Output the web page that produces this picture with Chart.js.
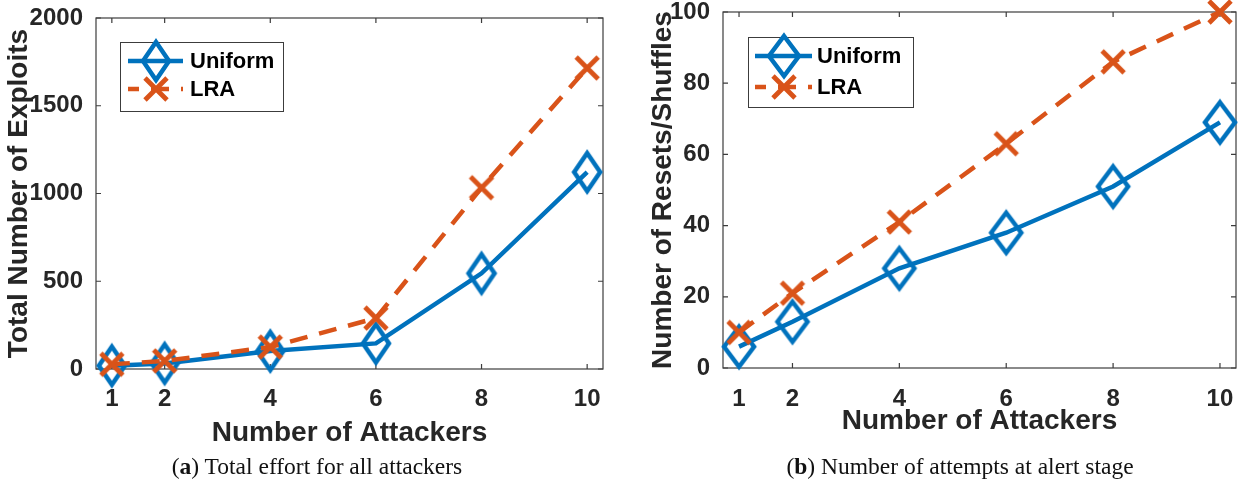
<!DOCTYPE html>
<html>
<head>
<meta charset="utf-8">
<script src="https://cdn.jsdelivr.net/npm/chart.js@4.4.0/dist/chart.umd.min.js"></script>
<style>
  html, body { margin: 0; padding: 0; background: #fff; }
  #wrap { position: relative; width: 1239px; height: 484px; overflow: hidden; }
  #c1 { position: absolute; left: 0; top: 0; }
  #c2 { position: absolute; left: 620px; top: 0; }
  .cap {
    position: absolute; top: 453px; line-height: 26px;
    font-family: "Liberation Serif", "DejaVu Serif", serif; font-size: 23.5px;
    color: #111; white-space: nowrap; transform: translateX(-50%);
  }
</style>
</head>
<body>
<div id="wrap">
  <canvas id="c1" width="620" height="484"></canvas>
  <canvas id="c2" width="619" height="484"></canvas>
  <div class="cap" style="left:317px">(<b>a</b>) Total effort for all attackers</div>
  <div class="cap" style="left:960px">(<b>b</b>) Number of attempts at alert stage</div>
</div>
<script>
// data
const attackers = [1, 2, 4, 6, 8, 10];
const xTicks = [1, 2, 4, 6, 8, 10];
const seriesNames = ["Uniform", "LRA"];

const exploitsUniform = [19, 32, 102, 146, 545, 1122];
const exploitsLRA = [27, 46, 125, 290, 1033, 1715];
const exploitTicks = [0, 500, 1000, 1500, 2000];

const resetsUniform = [6, 13, 28, 38, 51, 69];
const resetsLRA = [10, 21, 41, 63, 86, 100];
const resetTicks = [0, 20, 40, 60, 80, 100];

const BLUE = "#0072BD";
const ORANGE = "#D95319";
const AXIS = "#3c3c3c";
const TEXT = "#262626";
const SANS = '"Liberation Sans", Arial, sans-serif';

// hollow diamond marker, MATLAB style
function diamond(a, b) {
  const c = document.createElement("canvas");
  c.width = 44; c.height = 58;
  const g = c.getContext("2d");
  const cx = 22, cy = 29;
  g.strokeStyle = BLUE;
  g.lineWidth = 4.5;
  g.lineJoin = "miter";
  g.beginPath();
  g.moveTo(cx, cy - b);
  g.lineTo(cx + a, cy);
  g.lineTo(cx, cy + b);
  g.lineTo(cx - a, cy);
  g.closePath();
  g.stroke();
  return c;
}

function cross(r) {
  const c = document.createElement("canvas");
  c.width = 32; c.height = 32;
  const g = c.getContext("2d");
  g.strokeStyle = ORANGE;
  g.lineWidth = 4.8;
  g.beginPath();
  g.moveTo(16 - r, 16 - r); g.lineTo(16 + r, 16 + r);
  g.moveTo(16 + r, 16 - r); g.lineTo(16 - r, 16 + r);
  g.stroke();
  return c;
}

// box around the axes with inward ticks on all four sides
const matlabBox = {
  id: "matlabBox",
  beforeDatasetsDraw(chart) {
    const { ctx, chartArea: a, scales } = chart;
    const tl = 5;
    ctx.save();
    ctx.strokeStyle = AXIS;
    ctx.lineWidth = 1.2;
    ctx.strokeRect(a.left, a.top, a.right - a.left, a.bottom - a.top);
    ctx.beginPath();
    scales.x.ticks.forEach((t) => {
      const px = scales.x.getPixelForValue(t.value);
      ctx.moveTo(px, a.bottom); ctx.lineTo(px, a.bottom - tl);
      ctx.moveTo(px, a.top); ctx.lineTo(px, a.top + tl);
    });
    scales.y.ticks.forEach((t) => {
      const py = scales.y.getPixelForValue(t.value);
      ctx.moveTo(a.left, py); ctx.lineTo(a.left + tl, py);
      ctx.moveTo(a.right, py); ctx.lineTo(a.right - tl, py);
    });
    ctx.stroke();
    ctx.restore();
  },
};

const legendBox = {
  id: "legendBox",
  afterDraw(chart, args, o) {
    const { ctx, chartArea } = chart;
    const x0 = chartArea.left + o.dx;
    const y0 = chartArea.top + o.dy;
    ctx.save();
    ctx.fillStyle = "#fff";
    ctx.fillRect(x0, y0, o.w, o.h);
    ctx.strokeStyle = AXIS;
    ctx.lineWidth = 1;
    ctx.strokeRect(x0 + 0.5, y0 + 0.5, o.w, o.h);
    ctx.font = "bold 22px " + SANS;
    ctx.textBaseline = "middle";
    chart.data.datasets.forEach((ds, i) => {
      const y = y0 + o.rows[i];
      ctx.beginPath();
      ctx.setLineDash(ds.borderDash || []);
      ctx.lineDashOffset = ds.borderDash ? 7 : 0;
      ctx.strokeStyle = ds.borderColor;
      ctx.lineWidth = ds.borderWidth;
      ctx.moveTo(x0 + o.lineFrom, y);
      ctx.lineTo(x0 + o.lineTo, y);
      ctx.stroke();
      ctx.setLineDash([]);
      const img = ds.pointStyle;
      ctx.drawImage(img, x0 + o.mark - img.width / 2, y - img.height / 2);
      ctx.fillStyle = "#000";
      ctx.fillText(ds.label, x0 + o.text, y + 1);
    });
    ctx.restore();
  },
};

function makeChart(id, opt) {
  const datasets = [
    {
      label: seriesNames[0],
      data: attackers.map((x, i) => ({ x: x, y: opt.uniform[i] })),
      borderColor: BLUE,
      borderWidth: 4.5,
      pointStyle: diamond(opt.da, opt.db),
      pointRadius: 10,
      clip: false,
      order: 2,
    },
    {
      label: seriesNames[1],
      data: attackers.map((x, i) => ({ x: x, y: opt.lra[i] })),
      borderColor: ORANGE,
      borderWidth: 4.5,
      borderDash: [18, 12],
      pointStyle: cross(11),
      pointRadius: 10,
      clip: false,
      order: 1,
    },
  ];
  return new Chart(document.getElementById(id), {
    type: "line",
    data: { datasets: datasets },
    plugins: [matlabBox, legendBox],
    options: {
      responsive: false,
      animation: false,
      devicePixelRatio: 1,
      layout: { padding: opt.pad, autoPadding: false },
      plugins: {
        legend: { display: false },
        tooltip: { enabled: false },
        legendBox: opt.legend,
      },
      scales: {
        x: {
          type: "linear",
          min: 0.7,
          max: 10.3,
          afterBuildTicks: (s) => { s.ticks = xTicks.map((v) => ({ value: v })); },
          afterFit: (s) => { s.height = opt.xh; s.paddingLeft = 0; s.paddingRight = 0; },
          grid: { display: false, drawTicks: false },
          border: { display: false },
          ticks: {
            autoSkip: false, maxRotation: 0, padding: opt.xpad, color: TEXT,
            font: { family: SANS, size: 24, weight: "bold", lineHeight: 1 },
            callback: (v) => String(v),
          },
          title: {
            display: true, text: "Number of Attackers", color: TEXT,
            font: { family: SANS, size: 28, weight: "bold" },
            padding: { top: 0, bottom: 4 },
          },
        },
        y: {
          min: 0,
          max: opt.yTicks[opt.yTicks.length - 1],
          afterBuildTicks: (s) => { s.ticks = opt.yTicks.map((v) => ({ value: v })); },
          afterFit: (s) => { s.width = opt.yw; s.paddingTop = 0; s.paddingBottom = 0; },
          grid: { display: false, drawTicks: false },
          border: { display: false },
          ticks: {
            padding: 13, color: TEXT,
            font: { family: SANS, size: 24, weight: "bold", lineHeight: 1 },
            callback: (v) => String(v),
          },
          title: {
            display: true, text: opt.ytitle, color: TEXT,
            font: { family: SANS, size: 28, weight: "bold" },
            padding: { top: opt.ytp, bottom: 0 },
          },
        },
      },
    },
  });
}

makeChart("c1", {
  uniform: exploitsUniform, lra: exploitsLRA, yTicks: exploitTicks,
  ytitle: "Total Number of Exploits",
  pad: { left: 0, top: 18, right: 17, bottom: 30 },
  xh: 85, yw: 96, xpad: 18, ytp: 2, da: 13, db: 19,
  legend: { dx: 24, dy: 24, w: 163, h: 69, rows: [19, 47], lineFrom: 8, lineTo: 63, mark: 36, text: 70 },
});

makeChart("c2", {
  uniform: resetsUniform, lra: resetsLRA, yTicks: resetTicks,
  ytitle: "Number of Resets/Shuffles",
  pad: { left: 0, top: 12, right: 3, bottom: 42 },
  xh: 74, yw: 103, xpad: 19, ytp: 26, da: 15, db: 20,
  legend: { dx: 25, dy: 25, w: 165, h: 70, rows: [19, 50], lineFrom: 7, lineTo: 64, mark: 36, text: 69 },
});
</script>
</body>
</html>
